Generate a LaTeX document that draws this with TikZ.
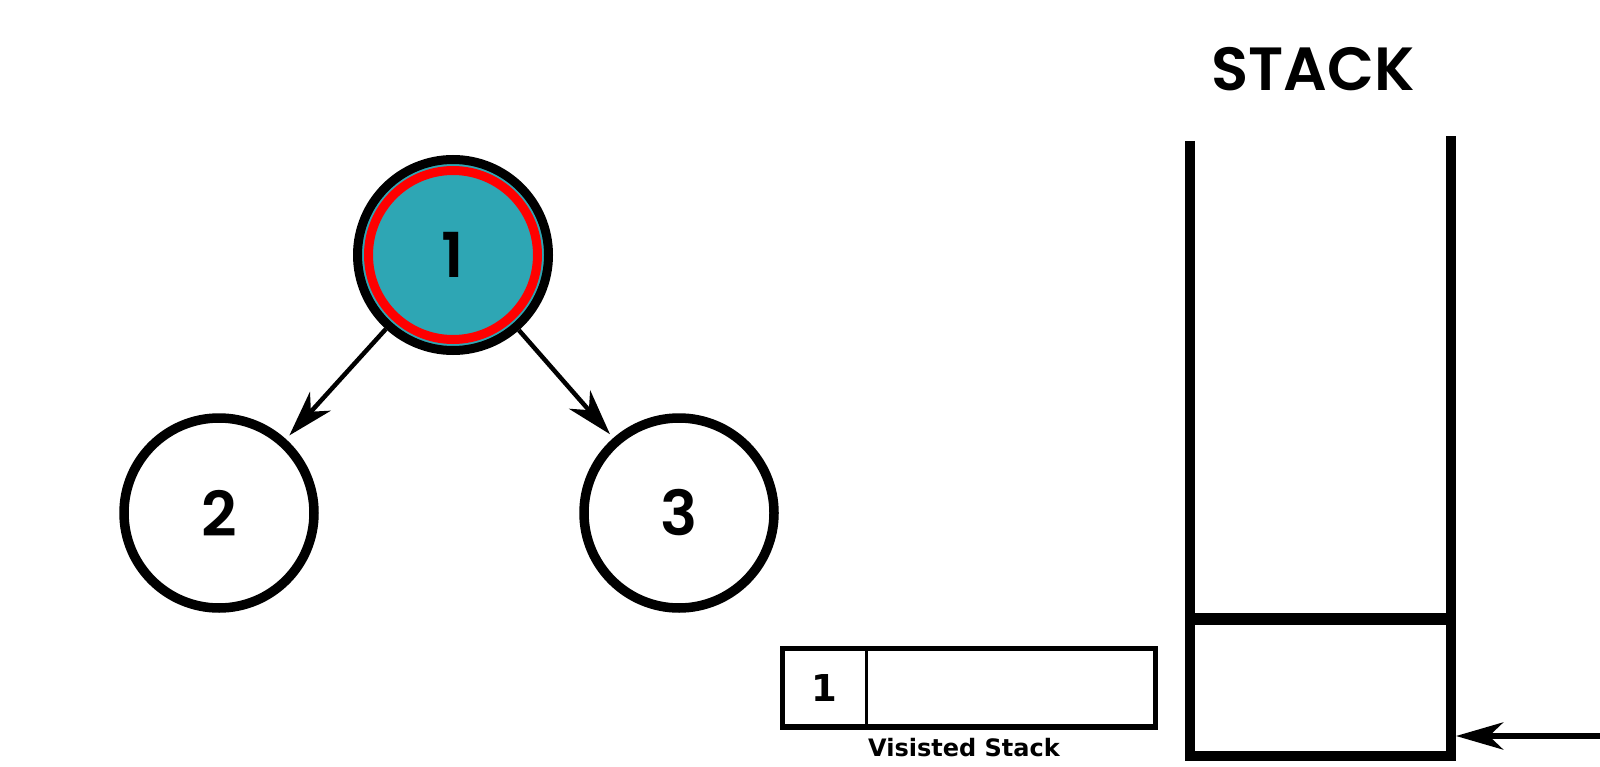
\documentclass[tikz,border=0pt]{standalone}
\usepackage{fontspec}
\setmainfont{DejaVu Sans}
% geometric display face for the tree and the stack title
\newfontfamily\geo{Poppins}[UprightFont={* SemiBold}]
\newfontfamily\cellfont{DejaVu Sans}[UprightFont={* Bold}]
\usetikzlibrary{arrows.meta}
\definecolor{nodeteal}{RGB}{46,166,180}
\definecolor{visitred}{RGB}{255,0,0}
\begin{document}
\begin{tikzpicture}[x=1pt,y=-1pt,
  treenode/.style={circle, draw=black, line width=9.5pt, minimum size=190pt,
    inner sep=0pt, fill=white, font=\geo\fontsize{62}{62}\selectfont},
  edge/.style={line width=4.5pt, shorten >=5pt,
    -{Stealth[length=46pt, width=28pt, inset=14pt]}},
  wall/.style={line width=10pt, miter limit=10},
  cellbox/.style={draw=black, line width=5.5pt},
]
\useasboundingbox (0,0) rectangle (1600,767);

% tree
\node[treenode, fill=nodeteal, line width=9pt, minimum size=191pt] (n1) at (453,255) {};
\draw[visitred, line width=9pt] (n1.center) circle (84.5);
\node[font=\geo\fontsize{62}{62}\selectfont] (l1) at (n1.center) {1};
\node[treenode] (n2) at (219,513) {2};
\node[treenode] (n3) at (679,513) {3};
\draw[edge] (n1) -- (n2);
\draw[edge] (n1) -- (n3);

% stack
\node[font=\geo\fontsize{61}{61}\selectfont] (title) at (1313,69) {STACK};
\draw[wall] (1189.5,141) -- (1189.5,755.5) -- (1450.5,755.5) -- (1450.5,136);
\draw[line width=12pt] (1194,619) -- (1446,619);
\coordinate (pushfrom) at (1600,736);
\coordinate (pushto) at (1456,736);
\draw[line width=6.5pt, -{Stealth[length=47pt, width=27pt, inset=14pt]}] (pushfrom) -- (pushto);

% visited stack
\draw[cellbox] (782.5,648.5) rectangle (1155.5,727);
\draw[line width=3pt] (866.5,648.5) -- (866.5,727);
\node[font=\cellfont\fontsize{37}{37}\selectfont] (v1) at (824.5,688) {1};
\node[font=\cellfont\fontsize{24}{24}\selectfont] (vlabel) at (964,748) {Visisted Stack};
\end{tikzpicture}
\end{document}
